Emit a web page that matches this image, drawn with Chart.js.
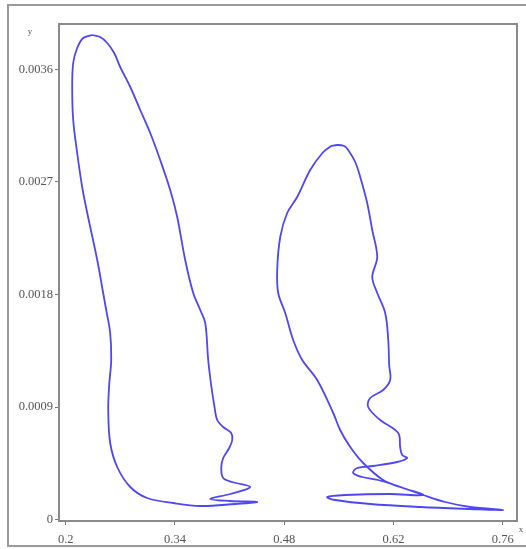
<!DOCTYPE html>
<html>
<head>
<meta charset="utf-8">
<script src="https://cdn.jsdelivr.net/npm/chart.js@4/dist/chart.umd.min.js"></script>
<style>
  body { margin: 0; background: #fff; }
  canvas { display: block; }
</style>
</head>
<body>
<canvas id="graph-canvas" width="526" height="549"></canvas>
<script>
// tick labels
var xTicks = [0.2, 0.34, 0.48, 0.62, 0.76];
var yTicks = [0, 0.0009, 0.0018, 0.0027, 0.0036];
var xTickLabels = ['0.2', '0.34', '0.48', '0.62', '0.76'];
var yTickLabels = ['0', '0.0009', '0.0018', '0.0027', '0.0036'];

// left loop
var loop1X = [0.2340, 0.2442, 0.2532, 0.2621, 0.2698, 0.2827, 0.2955, 0.3083, 0.3211, 0.3339,
              0.3429, 0.3531, 0.3634, 0.3724, 0.3788, 0.3826, 0.3864, 0.3903, 0.3941, 0.4018,
              0.4121, 0.4134, 0.4095, 0.4018, 0.3993, 0.4018, 0.4134, 0.4364, 0.4108, 0.3852,
              0.4108, 0.4454, 0.4172, 0.3724, 0.3378, 0.3044, 0.2827, 0.2660, 0.2570, 0.2545,
              0.2557, 0.2583, 0.2570, 0.2519, 0.2480, 0.2404, 0.2276, 0.2211, 0.2147, 0.2096,
              0.2083, 0.2096, 0.2147, 0.2224, 0.2340];
var loop1Y = [0.003876, 0.00386, 0.003812, 0.003732, 0.00362, 0.00346, 0.003276, 0.003092, 0.002876, 0.002636,
              0.00242, 0.002076, 0.001812, 0.001676, 0.001572, 0.001276, 0.001076, 0.000916, 0.000796, 0.00074,
              0.000692, 0.000636, 0.000572, 0.000492, 0.000412, 0.000332, 0.0003, 0.00026, 0.000204, 0.000164,
              0.000148, 0.00014, 0.000124, 0.000108, 0.000132, 0.000172, 0.00026, 0.00042, 0.000612, 0.000876,
              0.001076, 0.001276, 0.001492, 0.001676, 0.001812, 0.002076, 0.002452, 0.00266, 0.002932, 0.003196,
              0.00346, 0.003652, 0.003772, 0.003852, 0.003876];

// right loop
var loop2X = [0.5400, 0.5479, 0.5570, 0.5620, 0.5710, 0.5774, 0.5863, 0.5928, 0.5992, 0.5928, 0.5992, 0.6094,
              0.6133, 0.6145, 0.6158, 0.6068, 0.5902, 0.5876, 0.6030, 0.6261, 0.6286, 0.6312,
              0.6376, 0.6248, 0.5940, 0.5735, 0.5684, 0.5799, 0.6004, 0.6286, 0.6581, 0.6863,
              0.7183, 0.7606, 0.7183, 0.6543, 0.5902, 0.5453, 0.5351, 0.5582, 0.6158, 0.6581,
              0.6325, 0.6068, 0.5812, 0.5646, 0.5517, 0.5428, 0.5223, 0.5031, 0.4915, 0.4813,
              0.4723, 0.4710, 0.4749, 0.4838, 0.4966, 0.5133, 0.5290, 0.5400];
var loop2Y = [0.002988, 0.002996, 0.002988, 0.002956, 0.00286, 0.00274, 0.002532, 0.002316, 0.0021, 0.00194, 0.001812, 0.001652,
              0.001436, 0.001236, 0.001116, 0.001036, 0.000972, 0.0009, 0.000796, 0.000692, 0.00058, 0.000516,
              0.000492, 0.00046, 0.000428, 0.000412, 0.000372, 0.00034, 0.000316, 0.00026, 0.000196, 0.00014,
              0.0001, 0.000076, 0.000084, 0.0001, 0.000124, 0.000156, 0.00018, 0.000196, 0.000204, 0.000196,
              0.000252, 0.000316, 0.000452, 0.00058, 0.000716, 0.000852, 0.001116, 0.001276, 0.001436, 0.001652,
              0.001812, 0.001996, 0.00226, 0.002452, 0.00258, 0.002796, 0.002932, 0.002988];

var lineColor = '#4f47f0';
var tickFont = { family: 'Liberation Serif', size: 12.5 };

function toPoints(xs, ys) {
    let pts = [];
    for (let i = 0; i < xs.length; i++) {
        pts.push({x: xs[i], y: ys[i]});
    }
    return pts;
}

// frames round the plot and the whole picture, plus the axis letters
var framePlugin = {
    id: 'frames',
    afterDraw(chart) {
        let ctx = chart.ctx;
        let a = chart.chartArea;
        ctx.save();
        ctx.strokeStyle = '#9a9a9a';
        ctx.lineWidth = 2;
        ctx.strokeRect(8, 5, 560, 541);
        ctx.strokeStyle = '#8a8a8a';
        ctx.strokeRect(a.left, a.top, a.right - a.left, a.bottom - a.top);
        ctx.fillStyle = '#555';
        ctx.font = '9px "Liberation Serif"';
        ctx.textAlign = 'center';
        ctx.textBaseline = 'middle';
        ctx.fillText('y', 30, 32);
        ctx.fillText('x', 521, 530);
        ctx.restore();
    }
};

var datasets = [
    {data: toPoints(loop1X, loop1Y)},
    {data: toPoints(loop2X, loop2Y)}
].map(d => Object.assign(d, {
    showLine: true,
    borderColor: lineColor,
    borderWidth: 1.8,
    tension: 0.35,
    pointRadius: 0,
    pointHoverRadius: 0
}));

var canvas = document.getElementById('graph-canvas');
var context = canvas.getContext('2d');
var chart = new Chart(context, {
    type: 'scatter',
    data: { datasets: datasets },
    options: {
        responsive: false,
        animation: false,
        layout: { padding: { top: 24, right: 9, left: 0, bottom: 0 } },
        plugins: { legend: { display: false }, tooltip: { enabled: false } },
        scales: {
            x: {
                type: 'linear',
                min: 0.1914,
                max: 0.7783,
                afterBuildTicks: s => { s.ticks = xTicks.map(v => ({value: v})); },
                afterFit: s => { s.height = 28; },
                grid: { drawOnChartArea: false, tickLength: 4, color: '#777' },
                border: { color: '#8a8a8a', width: 2 },
                ticks: {
                    color: '#555',
                    font: tickFont,
                    padding: 7,
                    maxRotation: 0,
                    callback: (v, i) => xTickLabels[i]
                }
            },
            y: {
                type: 'linear',
                min: -0.000012,
                max: 0.003964,
                afterBuildTicks: s => { s.ticks = yTicks.map(v => ({value: v})); },
                afterFit: s => { s.width = 59; },
                grid: { drawOnChartArea: false, tickLength: 4, color: '#777' },
                border: { color: '#8a8a8a', width: 2 },
                ticks: {
                    color: '#555',
                    font: tickFont,
                    padding: 2,
                    callback: (v, i) => yTickLabels[i]
                }
            }
        }
    },
    plugins: [framePlugin]
});
</script>
</body>
</html>
